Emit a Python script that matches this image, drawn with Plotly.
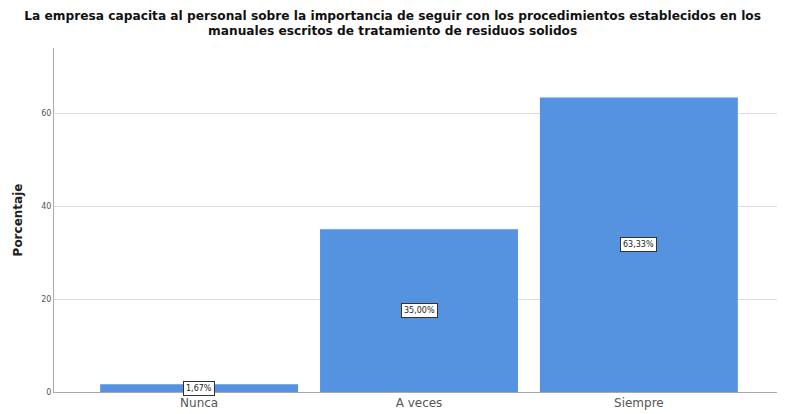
import plotly.graph_objects as go

categories = ["Nunca", "A veces", "Siempre"]
values = [1.67, 35.00, 63.33]
labels = ["1,67%", "35,00%", "63,33%"]
y_ticks = [0, 20, 40, 60]

FONT = "DejaVu Sans, Liberation Sans, Arial"

fig = go.Figure()
fig.add_trace(go.Bar(
    x=categories, y=values,
    marker=dict(color="#5592E0", line=dict(width=0)),
    hoverinfo="skip",
))

for c, v, t in zip(categories, values, labels):
    fig.add_annotation(
        x=c, y=v / 2, text=t, showarrow=False,
        font=dict(family=FONT, size=8, color="#222"),
        bgcolor="white", bordercolor="#333", borderwidth=1, borderpad=2,
    )

fig.update_layout(
    width=785, height=414,
    margin=dict(l=46, r=9, t=40, b=30),
    paper_bgcolor="white", plot_bgcolor="white",
    bargap=0.1,
    showlegend=False,
    title=dict(
        text="<b>La empresa capacita al personal sobre la importancia de seguir con los procedimientos establecidos en los<br>manuales escritos de tratamiento de residuos solidos</b>",
        x=0.49, xanchor="center", xref="container", y=0.972, yanchor="top",
        font=dict(family=FONT, size=12.2, color="#111"),
    ),
    font=dict(family=FONT),
)
fig.update_xaxes(
    range=[-0.66, 2.66],
    showline=True, linecolor="#aaaaaa", linewidth=1,
    showgrid=False, ticks="",
    tickfont=dict(size=12, color="#555"),
)
fig.update_yaxes(
    range=[0, 74],
    tickvals=y_ticks,
    showline=True, linecolor="#aaaaaa", linewidth=1,
    showgrid=True, gridcolor="#dddddd", gridwidth=1,
    zeroline=False,
    ticks="", ticklen=0,
    tickfont=dict(size=8, color="#555"),
    title=dict(text="<b>Porcentaje</b>", font=dict(size=12, color="#222"), standoff=16),
)

fig.write_html("out.html")
